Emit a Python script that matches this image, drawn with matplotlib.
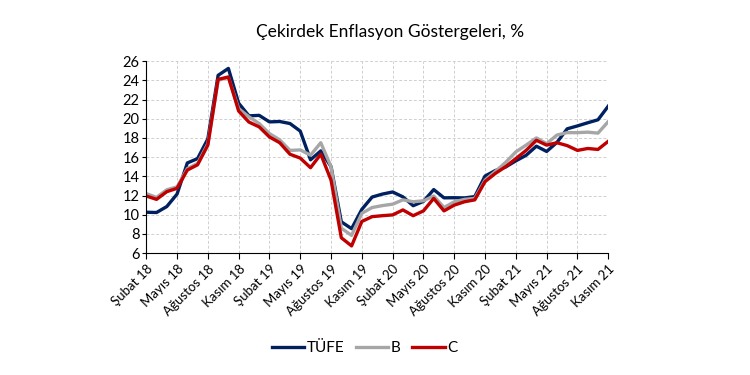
import matplotlib.pyplot as plt
import numpy as np

plt.rcParams['font.family'] = ['Lato', 'DejaVu Sans']

# monthly, Şubat 2018 - Kasım 2021
tick_labels = ["Şubat 18", "Mayıs 18", "Ağustos 18", "Kasım 18",
               "Şubat 19", "Mayıs 19", "Ağustos 19", "Kasım 19",
               "Şubat 20", "Mayıs 20", "Ağustos 20", "Kasım 20",
               "Şubat 21", "Mayıs 21", "Ağustos 21", "Kasım 21"]

tufe = [10.26, 10.23, 10.85, 12.15, 15.39, 15.85, 17.90, 24.52, 25.24, 21.62,
        20.30, 20.35, 19.67, 19.71, 19.50, 18.71, 15.72, 16.65, 15.01, 9.26,
        8.55, 10.56, 11.84, 12.15, 12.37, 11.86, 10.94, 11.39, 12.62, 11.76,
        11.77, 11.75, 11.89, 14.03, 14.60, 14.97, 15.61, 16.19, 17.14, 16.59,
        17.53, 18.95, 19.25, 19.58, 19.89, 21.31]

b = [12.2, 11.8, 12.6, 12.9, 14.8, 15.35, 17.4, 24.0, 24.3, 21.05,
     20.2, 19.5, 18.45, 17.8, 16.7, 16.75, 16.2, 17.5, 15.0, 8.6,
     7.85, 10.15, 10.75, 10.95, 11.1, 11.55, 11.35, 11.45, 11.95, 10.75,
     11.35, 11.6, 11.7, 13.6, 14.5, 15.45, 16.55, 17.25, 18.0, 17.4,
     18.3, 18.55, 18.55, 18.6, 18.5, 19.7]

c = [11.95, 11.6, 12.4, 12.75, 14.65, 15.2, 17.25, 24.1, 24.35, 20.8,
     19.65, 19.15, 18.1, 17.5, 16.3, 15.9, 14.9, 16.3, 13.6, 7.6,
     6.75, 9.3, 9.8, 9.9, 9.98, 10.5, 9.9, 10.4, 11.7, 10.4,
     11.0, 11.35, 11.55, 13.45, 14.3, 15.0, 15.85, 16.7, 17.75, 17.25,
     17.5, 17.2, 16.7, 16.9, 16.8, 17.65]

x = np.arange(len(tufe))

fig = plt.figure(figsize=(7.5, 3.75), dpi=100)
ax = fig.add_axes([0.195, 0.325, 0.616, 0.512])

ax.plot(x, tufe, color="#002060", lw=2.4, label="TÜFE")
ax.plot(x, b, color="#A6A6A6", lw=2.4, label="B")
ax.plot(x, c, color="#C00000", lw=2.4, label="C")

ax.set_xlim(0, 45)
ax.set_ylim(6, 26)
ax.set_yticks(range(6, 27, 2))
ax.set_xticks(range(0, 46, 3))
ax.set_xticklabels(tick_labels, rotation=45, ha="right", rotation_mode="anchor")
ax.tick_params(axis="x", length=4, labelsize=9.5, pad=3)
ax.tick_params(axis="y", length=3, labelsize=10.5, pad=2)

ax.grid(True, linestyle=(0, (3, 2)), color="#D0D0D0", lw=0.7)
ax.set_axisbelow(True)
for s in ["top", "right"]:
    ax.spines[s].set_visible(False)

fig.text(0.52, 0.915, "Çekirdek Enflasyon Göstergeleri, %", ha="center", va="center", fontsize=12.5)

fig.legend(loc="center", bbox_to_anchor=(0.486, 0.072), ncol=3, frameon=False,
           handlelength=2.1, handletextpad=0.15, columnspacing=0.8, fontsize=11)

fig.savefig("out.png", dpi=100)
